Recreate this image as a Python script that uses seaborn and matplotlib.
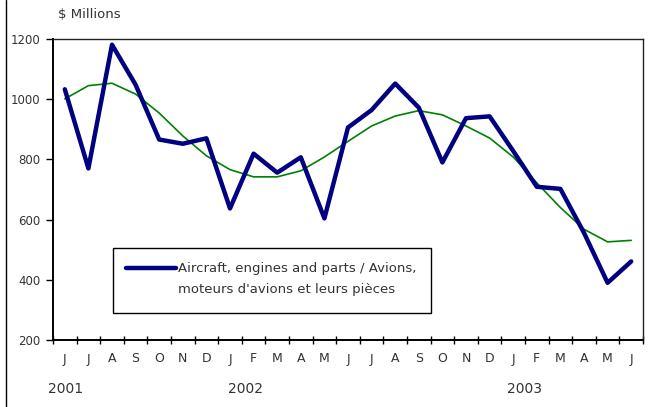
import matplotlib
matplotlib.use("Agg")
import matplotlib.pyplot as plt
from matplotlib.lines import Line2D
from matplotlib.patches import Rectangle
import pandas as pd
import seaborn as sns

months = ["J", "J", "A", "S", "O", "N", "D", "J", "F", "M", "A", "M",
          "J", "J", "A", "S", "O", "N", "D", "J", "F", "M", "A", "M", "J"]
years = ["2001", "2002", "2003"]
aircraft = [1033, 770, 1181, 1048, 866, 852, 870, 637, 819, 756, 807, 604,
            906, 964, 1052, 972, 790, 937, 943, 828, 709, 702, 556, 390, 461]
trend = [1001, 1045, 1053, 1017, 954, 878, 812, 766, 742, 742, 762, 808,
         860, 911, 944, 962, 948, 911, 871, 808, 722, 640, 568, 526, 531]

df = pd.DataFrame({"idx": range(len(months)), "aircraft": aircraft, "trend": trend})

sns.set_style("white")
plt.rcParams["font.family"] = ["DejaVu Sans"]
txt = "#333333"

fig = plt.figure(figsize=(6.51, 4.07), dpi=100)
ax = fig.add_axes([53 / 651, 67 / 407, 590 / 651, 301 / 407])

sns.lineplot(data=df, x="idx", y="trend", ax=ax, color="#008000", linewidth=1.2)
sns.lineplot(data=df, x="idx", y="aircraft", ax=ax, color="#000080", linewidth=3.2)

ax.set_xlim(-0.5, len(months) - 0.5)
ax.set_ylim(200, 1200)
ax.set_yticks([200, 400, 600, 800, 1000, 1200])
ax.set_xticks(range(len(months)))
ax.set_xticklabels(months)
ax.set_xticks([i - 0.5 for i in range(len(months) + 1)], minor=True)
ax.tick_params(axis="x", which="major", length=0, pad=9, labelsize=9, labelcolor=txt)
ax.tick_params(axis="x", which="minor", direction="inout", length=6, width=1, color="black", bottom=True)
ax.tick_params(axis="y", which="major", direction="out", length=5, width=1, color="black",
               left=True, labelsize=8.5, labelcolor=txt, pad=4)
ax.set_xlabel("")
ax.set_ylabel("")
for side in ["left", "bottom"]:
    ax.spines[side].set_linewidth(1.4)
    ax.spines[side].set_color("black")
for side in ["top", "right"]:
    ax.spines[side].set_linewidth(1.0)
    ax.spines[side].set_color("#222222")

# year labels under the month labels
for pos, yr in zip([0.05, 7.64, 19.5], years):
    ax.text(pos, -0.163, yr, transform=ax.get_xaxis_transform(), ha="center", va="center",
            fontsize=10, color=txt)

fig.text(58 / 651, 1 - 15 / 407, "$ Millions", ha="left", va="center", fontsize=9.5, color=txt)

# legend box
ax.add_patch(Rectangle((0.1017, 0.0897), 0.539, 0.216, transform=ax.transAxes,
                       facecolor="white", edgecolor="black", linewidth=1.0, zorder=4))
handle = Line2D([], [], color="#000080", linewidth=3.2)
leg = ax.legend([handle], ["Aircraft, engines and parts / Avions,"], loc="center left",
                bbox_to_anchor=(0.112, 0.236), frameon=False, handlelength=3.8,
                handletextpad=0.2, borderpad=0, fontsize=9.5)
for t in leg.get_texts():
    t.set_color(txt)
leg.set_zorder(5)
fig.canvas.draw()
bb = leg.get_texts()[0].get_window_extent()
x0, y0 = fig.transFigure.inverted().transform((bb.x0, bb.y0))
fig.text(x0, y0 - 21 / 407, "moteurs d'avions et leurs pièces", ha="left", va="bottom",
         fontsize=9.5, color=txt, zorder=6)

# frame line on the left of the picture
fig.add_artist(Line2D([6 / 651, 6 / 651], [0, 1], transform=fig.transFigure, color="black", linewidth=1.0))

fig.savefig("out.png", dpi=100)
